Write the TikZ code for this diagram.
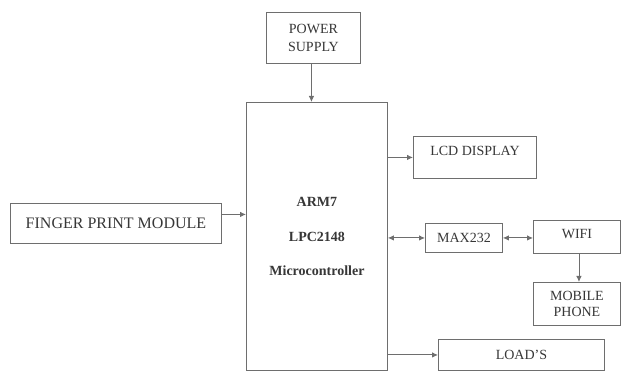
\documentclass[tikz,border=0pt]{standalone}
\usepackage{fontspec}
\setmainfont{Liberation Serif}
\definecolor{linegray}{RGB}{110, 110, 110}
\definecolor{textgray}{RGB}{55, 55, 55}
\usetikzlibrary{arrows.meta, positioning, calc}
\tikzset{
	block/.style={rectangle, draw=linegray, line width=0.9pt, fill=white, align=center, inner sep=2pt, text=textgray, font=\fontsize{14}{16.8}\selectfont, anchor=north west},
	cpu/.style={block, font=\fontsize{14}{16.8}\selectfont\bfseries},
	arrow/.style={-{Latex[length=6pt, width=5.5pt]}, line width=0.9pt, draw=linegray},
	twoway/.style={{Latex[length=6pt, width=5.5pt]}-{Latex[length=6pt, width=5.5pt]}, line width=0.9pt, draw=linegray},
}

\begin{document}
\begin{tikzpicture}[x=1pt, y=-1pt]
		\useasboundingbox (0,0) rectangle (622,371);
		\node[block, minimum width=94, minimum height=51] (psu) at (266,12) {POWER\\[2pt]SUPPLY};
		\node[cpu, minimum width=141, minimum height=268] (mcu) at (246,102) {ARM7\\[18pt]LPC2148\\[18pt]Microcontroller};
		\node[block, minimum width=211, minimum height=40, font=\fontsize{16}{19}\selectfont] (finger) at (10,203) {FINGER PRINT MODULE};
		\node[block, minimum width=123, minimum height=42, text depth=14pt] (lcd) at (413,136) {LCD DISPLAY};
		\node[block, minimum width=77, minimum height=29] (max) at (425,223) {MAX232};
		\node[block, minimum width=87, minimum height=33, text depth=6pt] (wifi) at (533,220) {WIFI};
		\node[block, minimum width=87, minimum height=43] (phone) at (533,282) {MOBILE\\PHONE};
		\node[block, minimum width=166, minimum height=31] (load) at (438,339) {LOAD'S};
		\draw[arrow] ([xshift=-2pt]psu.south) -- ([xshift=-2pt]psu.south |- mcu.north);
		\draw[arrow] ([yshift=9pt]finger.east) -- ([yshift=9pt]finger.east -| mcu.west);
		\draw[arrow] (mcu.east |- lcd.west) -- (lcd.west);
		\draw[twoway] (mcu.east |- max.west) -- (max.west);
		\draw[twoway] (max.east) -- (max.east -| wifi.west);
		\draw[arrow] ([xshift=2pt]wifi.south) -- ([xshift=2pt]phone.north);
		\draw[arrow] (mcu.east |- load.west) -- (load.west);
	\end{tikzpicture}
\end{document}
